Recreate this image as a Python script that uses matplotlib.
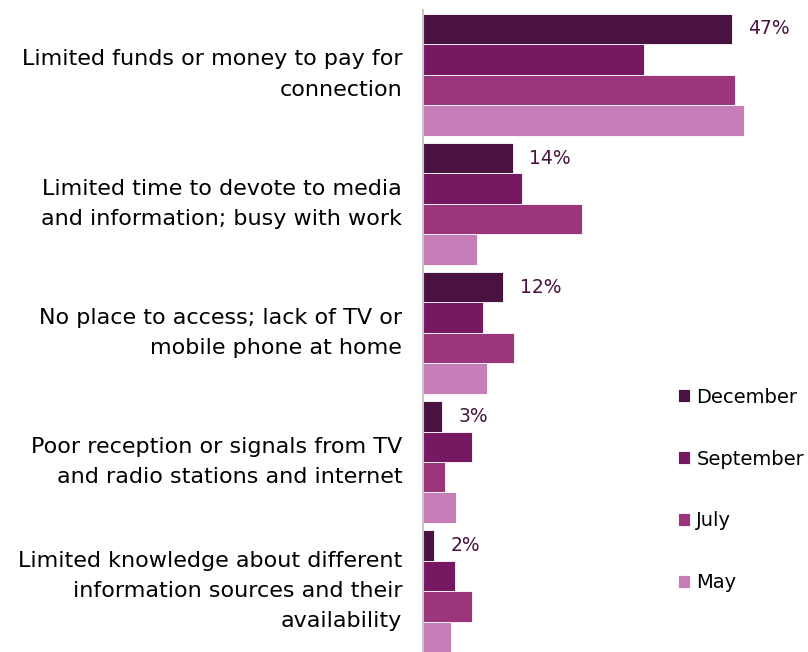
import matplotlib.pyplot as plt
import numpy as np

plt.rcParams['font.family'] = ['DejaVu Sans']

categories = ["Limited funds or money to pay for\nconnection",
              "Limited time to devote to media\nand information; busy with work",
              "No place to access; lack of TV or\nmobile phone at home",
              "Poor reception or signals from TV\nand radio stations and internet",
              "Limited knowledge about different\ninformation sources and their\navailability"]
series = ["December", "September", "July", "May"]
december = [47, 13.7, 12.2, 2.9, 1.7]
september = [33.6, 15.1, 9.1, 7.5, 4.9]
july = [47.5, 24.2, 13.9, 3.3, 7.5]
may = [48.9, 8.2, 9.7, 5.0, 4.3]
dec_labels = ["47%", "14%", "12%", "3%", "2%"]

colors = ["#4A1240", "#761862", "#9B367D", "#C77DB8"]

fig = plt.figure(figsize=(8.08, 6.52), dpi=100)
ax = fig.add_axes([423/808, 0, 1 - 423/808, 1 - 10/652])

bh = 0.236
idx = np.arange(len(categories))
for k, vals in enumerate([december, september, july, may]):
    ypos = idx + (k - 1.5) * bh
    ax.barh(ypos, vals, height=bh, color=colors[k], label=series[k],
            edgecolor="white", linewidth=0.6)

for i, (v, lab) in enumerate(zip(december, dec_labels)):
    ax.text(v + 2.5, i - 1.5 * bh, lab, va="center", ha="left",
            fontsize=13.5, color="#4A1240")

ax.set_ylim(4.472, -0.501)
ax.set_xlim(0, 58.6)
ax.set_yticks(idx)
ax.set_yticklabels(categories, fontsize=16, linespacing=1.65, va="center")
ax.tick_params(axis="y", length=0, pad=15)
ax.set_xticks([])
for s in ["top", "right", "bottom"]:
    ax.spines[s].set_visible(False)
ax.spines["left"].set_color("#c8c8c8")
ax.spines["left"].set_linewidth(1.5)

ax.legend(loc="upper left", bbox_to_anchor=((670 - 423) / 385, 1 - 370 / 642),
          frameon=False, fontsize=14, handlelength=0.65, handleheight=0.65,
          handletextpad=0.3, labelspacing=2.2, borderaxespad=0)

fig.savefig("out.png", dpi=100)
